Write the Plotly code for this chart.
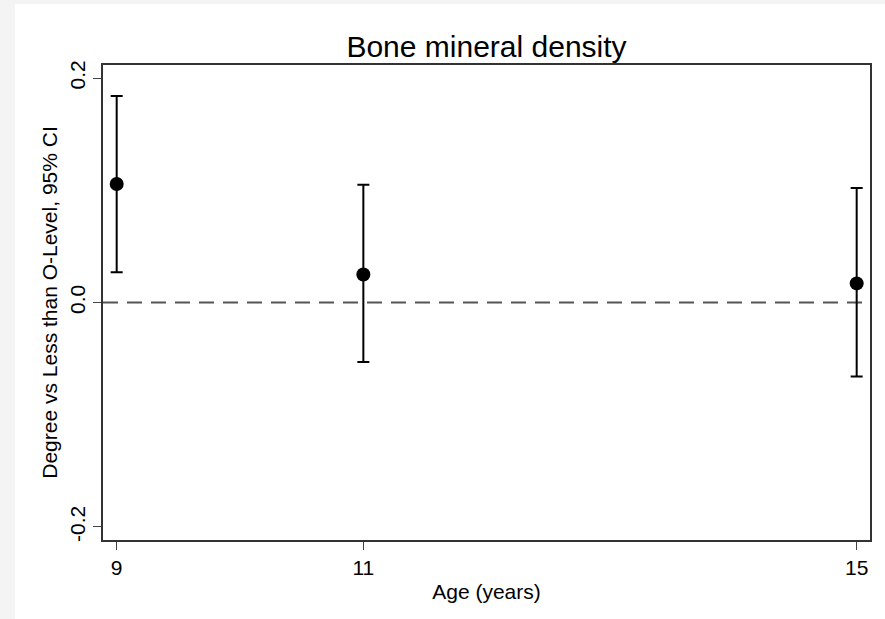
import plotly.graph_objects as go

ages = [9, 11, 15]
estimate = [0.1056, 0.025, 0.017]
ci_upper = [0.184, 0.105, 0.102]
ci_lower = [0.027, -0.053, -0.066]
x_ticks = [9, 11, 15]
y_ticks = [-0.2, 0.0, 0.2]
y_tick_text = ["-0.2", "0.0", "0.2"]

err_plus = [u - e for u, e in zip(ci_upper, estimate)]
err_minus = [e - l for e, l in zip(estimate, ci_lower)]

FONT = "Liberation Sans, Arial, sans-serif"

fig = go.Figure()
fig.add_trace(go.Scatter(
    x=ages, y=estimate, mode="markers",
    marker=dict(color="black", size=14),
    error_y=dict(type="data", symmetric=False, array=err_plus, arrayminus=err_minus,
                 color="black", thickness=2, width=6),
    showlegend=False,
))

fig.add_shape(type="line", xref="paper", yref="y", x0=0, x1=1, y0=0, y1=0,
              line=dict(color="#555555", width=2, dash="15px,9px"), layer="below")

# light gray border strip (left / top) of the outer page
PW, PH = 767, 475
fig.add_shape(type="rect", xref="paper", yref="paper",
              x0=-103/PW, x1=(15-103)/PW, y0=-79/PH, y1=(619-79)/PH,
              fillcolor="#f4f4f4", line=dict(width=0), layer="below")
fig.add_shape(type="rect", xref="paper", yref="paper",
              x0=-103/PW, x1=(885-103)/PW, y0=(619-79-4)/PH, y1=(619-79)/PH,
              fillcolor="#f4f4f4", line=dict(width=0), layer="below")

fig.update_layout(
    width=885, height=619,
    margin=dict(l=103, r=15, t=65, b=79),
    paper_bgcolor="white", plot_bgcolor="white",
    font=dict(family=FONT, color="black", size=21),
    title=dict(text="Bone mineral density", x=0.5, xref="paper", xanchor="center",
               y=1 - 46/619, yanchor="middle", font=dict(size=30, family=FONT, color="black")),
    xaxis=dict(range=[8.889, 15.108], tickvals=x_ticks, ticktext=[str(v) for v in x_ticks],
               ticks="outside", ticklen=8, tickcolor="#444444", tickwidth=1.2,
               showline=True, linecolor="#333333", linewidth=1.8, mirror=True,
               showgrid=False, zeroline=False,
               tickfont=dict(size=21, family=FONT, color="black"),
               title=dict(text="Age (years)", font=dict(size=21, family=FONT, color="black"), standoff=6)),
    yaxis=dict(range=[-0.2116, 0.2116], tickvals=y_ticks, ticktext=y_tick_text,
               ticks="outside", ticklen=8, tickcolor="#444444", tickwidth=1.2, tickangle=-90,
               showline=True, linecolor="#333333", linewidth=1.8, mirror=True,
               showgrid=False, zeroline=False,
               tickfont=dict(size=21, family=FONT, color="black"),
               title=dict(text="Degree vs Less than O-Level, 95% CI",
                          font=dict(size=21, family=FONT, color="black"), standoff=2)),
)

fig.write_html("out.html")
